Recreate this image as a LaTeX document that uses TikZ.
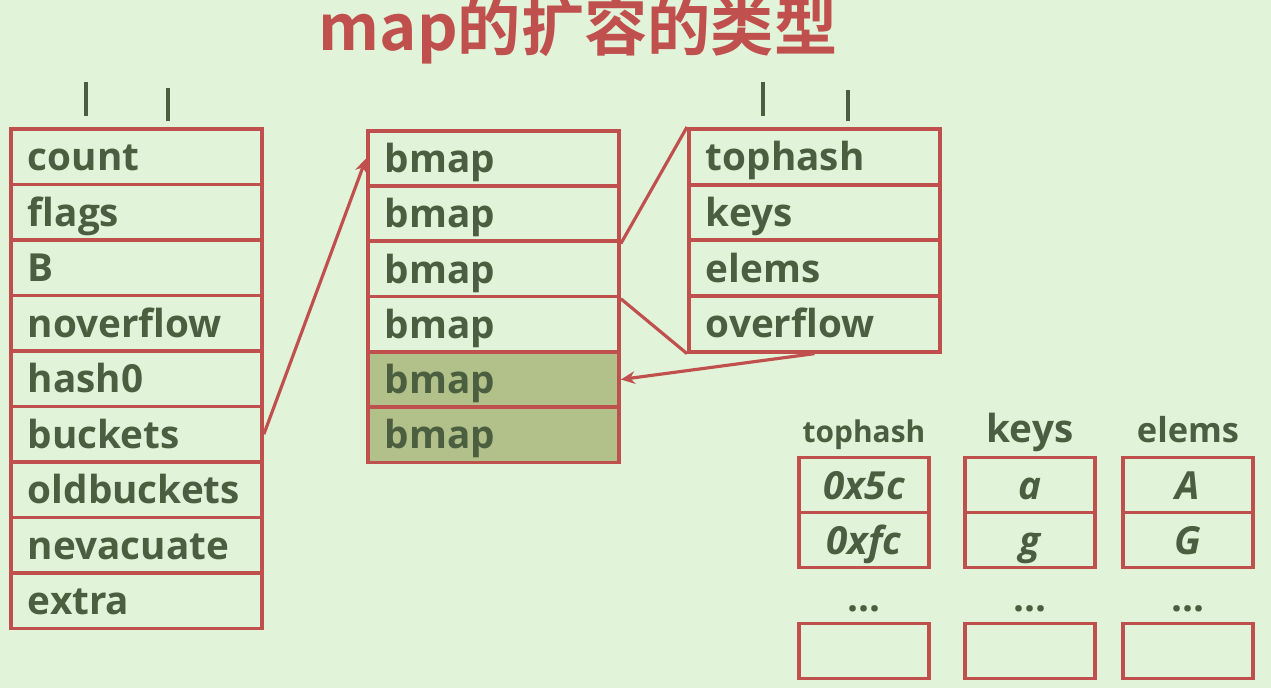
\documentclass[tikz,border=0pt]{standalone}
\usepackage{fontspec}
\setmainfont{Open Sans}
\newfontfamily\cjk{Noto Sans CJK SC}[BoldFont={Noto Sans CJK SC Bold}]
\usetikzlibrary{arrows.meta,positioning}
\definecolor{grund}{HTML}{E1F3D8}
\definecolor{rand}{HTML}{C0504D}
\definecolor{schrift}{HTML}{4B5E40}
\definecolor{oliv}{HTML}{B2C189}

\begin{document}
\begin{tikzpicture}[x=0.1mm,y=-0.1mm,>={Stealth[length=4pt,width=3.6pt]},
  font=\bfseries\fontsize{11}{13}\selectfont,text=schrift,
  feld/.style={draw=rand,line width=1.1pt,minimum height=5.55mm,text width=2.17cm,
    inner xsep=1.7mm,inner ysep=0pt,text height=3.2mm,text depth=0.4mm,align=left,anchor=north west},
  zelle/.style={draw=rand,line width=1.1pt,minimum height=5.5mm,minimum width=1.3cm,inner sep=0pt,
    text height=3.2mm,text depth=0.4mm,font=\bfseries\itshape\fontsize{11}{13}\selectfont},
  pfeil/.style={rand,line width=0.9pt}]
\useasboundingbox (0,0) rectangle (1271,688);
\fill[grund] (0,0) rectangle (1271,688);
\node[text=rand,font=\cjk\bfseries\fontsize{18}{21}\selectfont] (titel) at (578,30) {map的扩容的类型};
% kleine Striche oben
\foreach \x/\a/\b in {86/82/116,168/88/121,763/82/116,848/90/121}
  \draw[schrift,line width=1pt] (\x,\a)--(\x,\b);
% hmap
\foreach \t [count=\i] in {count,flags,B,noverflow,hash0,buckets,oldbuckets,nevacuate,extra}
  \node[feld] (h\i) at (9,{127+55.5*(\i-1)}) {\t};
% buckets
\foreach \f [count=\i] in {grund,grund,grund,grund,oliv,oliv}
  \node[feld,fill=\f] (b\i) at (366,{129+55.2*(\i-1)}) {bmap};
% bmap
\foreach \t [count=\i] in {tophash,keys,elems,overflow}
  \node[feld] (t\i) at (687,{127+55.75*(\i-1)}) {\t};
% Verbindungen
\draw[pfeil,->] (h6.east) -- (b1.west);
\draw[pfeil] (b2.south east) -- (t1.north west);
\draw[pfeil] (b3.south east) -- (t4.south west);
\draw[pfeil,->] (t4.south) -- (b5.east);
% Inhalt eines bmap
\foreach \x/\n/\k/\g/\a/\b in {864/th/tophash/8.5/0x5c/0xfc,1030/ky/keys/11/a/g,1188/el/elems/9.8/A/G}{
  \node[font=\bfseries\fontsize{\g}{12}\selectfont,anchor=base] (\n k) at (\x,442) {\k};
  \node[zelle] (\n1) at (\x,485) {\a};
  \node[zelle] (\n2) at (\x,540) {\b};
  \node[anchor=base] (\n p) at (\x,611) {...};
  \node[zelle] (\n3) at (\x,651) {};
}
\end{tikzpicture}
\end{document}
